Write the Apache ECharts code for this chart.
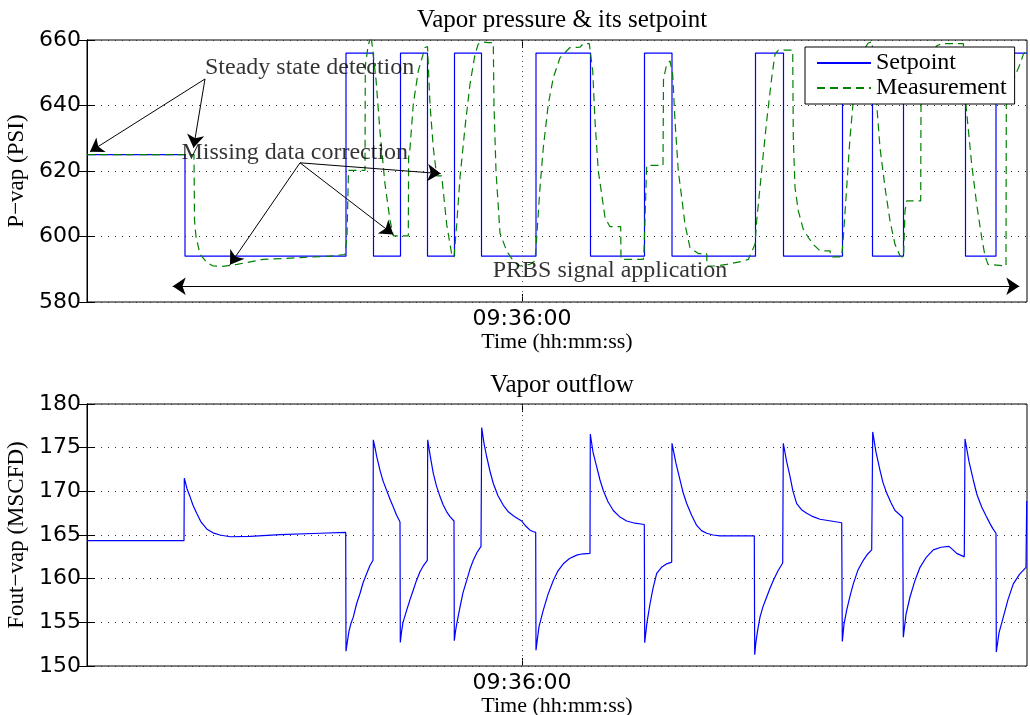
<!DOCTYPE html>
<html>
<head>
<meta charset="utf-8">
<script src="https://cdn.jsdelivr.net/npm/echarts@6/dist/echarts.min.js"></script>
<style>
html, body { margin: 0; padding: 0; background: #fff; }
#chart { width: 1030px; height: 715px; }
</style>
</head>
<body>
<div id="chart"></div>
<script>
// time axis in seconds from the left edge; t = 870 s is 09:36:00
var startClock = 9 * 3600 + 21 * 60 + 30;
var tickT = [870];

// setpoint (held until the next switch time)
var spT = [0, 196, 518, 573, 627, 681, 735, 789, 898, 1007, 1115, 1170, 1337, 1393, 1511, 1571, 1633, 1757, 1818, 1880];
var spV = [625, 594, 656, 594, 656, 594, 656, 594, 656, 594, 656, 594, 656, 594, 656, 594, 656, 594, 656, 656];

// measured vapor pressure
var measT = [0, 214, 215, 218, 226, 240, 252, 272, 300, 352, 420, 486, 516, 520, 523, 556, 556.6, 562, 568, 572,
  578, 586, 596, 606, 612.6, 642.6, 643.2, 646, 652.6, 662.6, 676, 681, 686, 692.6, 699.4, 709.4, 719.4, 729.4, 734,
  739.4, 746, 756, 766, 776, 782.6, 792, 802, 812.6, 814, 818, 826, 839.4, 852.6, 866, 886, 896, 899.4, 906, 912.6,
  922.6, 932.6, 946, 966, 986, 992.6, 1004.6, 1011.4, 1016, 1022.6, 1029.4, 1036, 1046, 1067.4, 1068, 1112.6, 1114,
  1119.4, 1152, 1153, 1159.4, 1166, 1170, 1171.4, 1176, 1182.6, 1189.4, 1196, 1206, 1222.6, 1239.4, 1240, 1259.4,
  1279.4, 1312.6, 1322.6, 1336, 1339.4, 1346, 1352.6, 1359.4, 1369.4, 1376, 1382.6, 1411.4, 1412.6, 1416, 1422.6,
  1432.6, 1442.6, 1452.6, 1466, 1486, 1488, 1509.4, 1512.6, 1519.4, 1526, 1532.6, 1540, 1550, 1562, 1570, 1574,
  1579.4, 1586, 1596, 1606, 1616, 1626, 1633, 1636, 1639.4, 1667.4, 1668, 1676, 1686, 1699.4, 1709.4, 1752.6, 1755,
  1758, 1769.4, 1779.4, 1789.4, 1796, 1802, 1838, 1838.6, 1846, 1866, 1872.6, 1880];
var measV = [625, 625, 605, 600, 594.6, 592, 591, 590.9, 591.5, 593, 593.5, 594, 594.5, 600, 620.2, 620.2, 652, 658, 661.5, 661,
  648, 632, 616, 605, 600.2, 600.2, 624, 627, 640.4, 650.6, 657.7, 658, 640.4, 627.1, 618.5, 618.5, 603.7, 594.6, 593.6,
  603.7, 618, 633.3, 646.5, 655.6, 658.8, 659.4, 659.2, 659.2, 640, 620, 601, 595.6, 592.5, 591, 591.5, 592.5, 599.7, 615, 627.1,
  640.4, 648.5, 654.6, 657.7, 657.8, 658.9, 658.9, 650.6, 635.3, 620, 612.9, 605.8, 603, 603, 593, 593, 595.6,
  621.7, 621.7, 648, 652.6, 653.6, 653.5, 649.5, 635.3, 620, 611.9, 603.7, 596.6, 594.8, 594.8, 591, 591,
  591.5, 592.5, 593, 597.6, 604.8, 615, 625.1, 635.3, 648.5, 655.6, 656.9, 656.9, 630.2, 615, 607.8,
  602.2, 599.7, 597.6, 595.6, 595.6, 593.8, 593.8, 599.7, 615, 630.2, 641.4, 650, 656, 659, 659.5, 652,
  640.4, 627.1, 615, 604.8, 597.6, 594.1, 593.5, 607.8, 610.9, 610.9, 640, 650, 655.5, 658.2, 658.9, 658.9, 655,
  640, 622, 609.8, 599.7, 594.1, 591.5, 591, 640, 645.5, 652.6, 655.6, 657];

// vapor outflow
var flowT = [0, 194, 194.6, 200, 206, 212, 219.4, 228, 239.4, 252, 266, 286, 326, 386, 466, 517.4,
  518, 521, 524, 528, 532.6, 539, 546, 552, 559.4, 566, 572,
  572.6, 576, 579.4, 586, 592, 599.4, 606, 612.6, 619, 626,
  626.6, 629, 632, 639.4, 646, 652.6, 659, 666, 673, 680.6,
  681.4, 686, 692.6, 699, 706, 712, 719.4, 726, 734,
  734.6, 737, 740, 746, 752, 759.4, 766, 772.6, 780, 788,
  789.4, 794, 799.4, 806, 812.6, 822, 832.6, 842, 852.6, 862, 869.4, 878, 886, 892, 897.4,
  898, 901, 904, 912.6, 922, 932.6, 942, 952.6, 965, 979.4, 992, 1006,
  1006.6, 1012, 1019.4, 1026, 1032.6, 1042, 1052.6, 1065, 1079.4, 1096, 1114.6,
  1115.4, 1120, 1126, 1132, 1139.4, 1149, 1159.4, 1169.4,
  1170, 1178, 1186, 1192, 1199.4, 1209, 1219.4, 1229, 1239.4, 1252, 1266, 1300, 1334.6,
  1335.4, 1338, 1341, 1346, 1352, 1359.4, 1366, 1372.6, 1382, 1391.4,
  1392.6, 1399, 1406, 1412, 1419.4, 1429, 1439.4, 1452, 1466, 1488, 1509.4,
  1510.6, 1514, 1519.4, 1526, 1532.6, 1542, 1552.6, 1561, 1569.4,
  1571.4, 1578, 1586, 1592, 1599.4, 1608, 1616, 1624, 1631.4,
  1632.6, 1638, 1646, 1656, 1666, 1678, 1692.6, 1708, 1724, 1732, 1739.4, 1747, 1754.6,
  1756, 1764, 1772.6, 1780, 1789.4, 1798, 1806, 1812, 1818,
  1818.6, 1824, 1832.6, 1842, 1852.6, 1865, 1878, 1879.4];
var flowV = [164.35, 164.35, 171.5, 170.3, 169.4, 168.4, 167.5, 166.5, 165.7, 165.25, 165.0, 164.8, 164.85, 165.05, 165.2, 165.3,
  151.7, 152.9, 154, 154.9, 155.6, 157.1, 158.3, 159.5, 160.6, 161.5, 162.1,
  175.9, 175.0, 174, 172.4, 171.2, 170.1, 169.1, 168.2, 167.3, 166.5,
  152.7, 153.9, 155, 156.4, 157.6, 158.7, 159.8, 160.8, 161.5, 162.1,
  175.9, 174.2, 172.05, 170.6, 169.4, 168.5, 167.65, 167.1, 166.6,
  152.9, 154, 155, 156.75, 158.4, 159.8, 161.1, 162.1, 163.0, 163.7,
  177.3, 175.5, 173.96, 172.3, 170.9, 169.5, 168.4, 167.7, 167.2, 166.85, 166.6, 166.0, 165.55, 165.4, 165.3,
  151.8, 153.2, 154.5, 156.4, 158.2, 159.8, 160.9, 161.7, 162.3, 162.7, 162.85, 162.9,
  176.56, 174.5, 172.8, 171.3, 170.1, 168.8, 167.8, 167.1, 166.6, 166.35, 166.2,
  152.67, 155.0, 157.1, 158.9, 160.6, 161.3, 161.7, 161.9,
  175.5, 173.2, 171.3, 169.9, 168.6, 167.3, 166.1, 165.5, 165.2, 165.0, 164.9, 164.9, 164.9,
  151.3, 152.8, 154, 155.6, 156.8, 157.9, 158.9, 159.8, 160.9, 161.8,
  175.5, 173.5, 171.7, 170.0, 168.6, 167.9, 167.5, 167.1, 166.8, 166.6, 166.4,
  152.8, 154.8, 156.4, 158.0, 159.4, 161.0, 162.1, 162.8, 163.3,
  176.8, 174.5, 172.4, 171.0, 169.8, 168.7, 167.8, 167.4, 167.0,
  153.3, 155.9, 157.9, 159.8, 161.3, 162.4, 163.3, 163.6, 163.7, 163.3, 162.9, 162.7, 162.5,
  176.0, 173.4, 171.3, 169.6, 168.2, 167.2, 166.3, 165.7, 165.2,
  151.6, 153.8, 155.6, 157.6, 159.4, 160.5, 161.3, 168.9];

// annotations on the pressure plot
var noteText = ['Steady state detection', 'Missing data correction', 'PRBS signal application'];
var noteT = [236, 189, 1046];
var noteV = [651.5, 625.5, 589.7];
var arrowFrom = [[236, 648.1], [236, 648.1], [426, 622.5], [426, 622.5], [426, 622.5]];
var arrowTo = [[6, 625.9], [213, 627.1], [286, 591.4], [612.7, 600.6], [707.3, 619.2]];
var spanFrom = [171.4, 584.8];
var spanTo = [1864.6, 584.8];

function zip(xs, ys) {
  return xs.map(function (x, i) { return [x, ys[i]]; });
}
function clock(t) {
  var s = Math.round(startClock + t);
  var h = Math.floor(s / 3600), m = Math.floor(s / 60) % 60, sec = s % 60;
  return [h, m, sec].map(function (v) { return (v < 10 ? '0' : '') + v; }).join(':');
}

var serif = 'Liberation Serif';
var sans = 'DejaVu Sans';
var dotted = { color: '#333', width: 1, type: [1, 6] };

function xAxes(grid) {
  return [{
    gridIndex: grid, type: 'value', min: 0, max: 1880, position: 'bottom',
    axisLine: { show: false },
    axisTick: { inside: true, length: 8, customValues: tickT, lineStyle: { color: '#000' } },
    axisLabel: { customValues: tickT, formatter: clock, margin: 6, color: '#000', fontFamily: sans, fontSize: 22 },
    splitLine: { show: false },
    name: 'Time (hh:mm:ss)', nameLocation: 'middle', nameGap: 25,
    nameTextStyle: { color: '#000', fontFamily: serif, fontSize: 22 }
  }, {
    gridIndex: grid, type: 'value', min: 0, max: 1880, position: 'top',
    axisLine: { show: false },
    axisTick: { inside: true, length: 8, customValues: tickT, lineStyle: { color: '#000' } },
    axisLabel: { show: false }, splitLine: { show: false }
  }];
}
function yAxes(grid, lo, hi, step, title) {
  return [{
    gridIndex: grid, type: 'value', min: lo, max: hi, interval: step,
    axisLine: { show: true, lineStyle: { color: '#000' } },
    axisTick: { inside: true, length: 8, lineStyle: { color: '#000' } },
    axisLabel: { color: '#000', fontFamily: sans, fontSize: 22, margin: 6 },
    splitLine: { show: true, lineStyle: dotted },
    name: title, nameLocation: 'middle', nameRotate: 90, nameGap: 56,
    nameTextStyle: { color: '#000', fontFamily: serif, fontSize: 23 }
  }, {
    gridIndex: grid, type: 'value', min: lo, max: hi, interval: step, position: 'right',
    axisLine: { show: true, lineStyle: { color: '#000' } },
    axisTick: { inside: true, length: 8, lineStyle: { color: '#000' } },
    axisLabel: { show: false }, splitLine: { show: false }
  }];
}
var vline = {
  silent: true, symbol: 'none', label: { show: false },
  lineStyle: { color: '#555', width: 1, type: [1, 4] },
  data: [{ xAxis: tickT[0] }]
};

var arrows = arrowFrom.map(function (a, i) {
  return [{ coord: a }, { coord: arrowTo[i] }];
});
arrows.push([{ coord: spanFrom, symbol: 'arrow' }, { coord: spanTo, symbol: 'arrow' }]);

var option = {
  animation: false,
  backgroundColor: '#fff',
  title: [
    { text: 'Vapor pressure & its setpoint', left: 557, top: 3, textAlign: 'center',
      textStyle: { fontFamily: serif, fontSize: 25, fontWeight: 'normal', color: '#000' } },
    { text: 'Vapor outflow', left: 557, top: 368, textAlign: 'center',
      textStyle: { fontFamily: serif, fontSize: 25, fontWeight: 'normal', color: '#000' } }
  ],
  grid: [
    { left: 87, top: 40, width: 940, height: 262, show: true, borderColor: '#000', borderWidth: 1,
      containLabel: false, outerBoundsMode: 'none' },
    { left: 87, top: 404, width: 940, height: 262, show: true, borderColor: '#000', borderWidth: 1,
      containLabel: false, outerBoundsMode: 'none' }
  ],
  legend: {
    data: ['Setpoint', 'Measurement'],
    orient: 'vertical', left: 805, top: 47,
    itemWidth: 54, itemHeight: 14, itemGap: 1,
    padding: [4, 8, 4, 11],
    backgroundColor: '#fff', borderColor: '#000', borderWidth: 1,
    itemStyle: { color: 'rgba(0,0,0,0)', borderWidth: 0, borderColor: 'rgba(0,0,0,0)', opacity: 0 },
    textStyle: { fontFamily: serif, fontSize: 24, color: '#000' }
  },
  xAxis: xAxes(0).concat(xAxes(1)),
  yAxis: yAxes(0, 580, 660, 20, 'P\u2212vap (PSI)').concat(yAxes(1, 150, 180, 5, 'Fout\u2212vap (MSCFD)')),
  series: [
    {
      name: 'Setpoint', type: 'line', xAxisIndex: 0, yAxisIndex: 0, step: 'end',
      symbol: 'none', lineStyle: { color: '#0000ff', width: 1.2 }, itemStyle: { color: '#0000ff' },
      data: zip(spT, spV), markLine: vline
    },
    {
      name: 'Measurement', type: 'line', xAxisIndex: 0, yAxisIndex: 0,
      symbol: 'none', lineStyle: { color: '#008000', width: 1.2, type: [8, 5] }, itemStyle: { color: '#008000' },
      data: zip(measT, measV)
    },
    {
      name: 'notes', type: 'scatter', xAxisIndex: 0, yAxisIndex: 0, symbolSize: 0, silent: true, z: 5,
      data: noteT.map(function (t, i) { return [t, noteV[i], noteText[i]]; }),
      label: {
        show: true, position: [0, 0], verticalAlign: 'middle',
        fontFamily: serif, fontSize: 24, color: '#000',
        formatter: function (p) { return p.data[2]; },
        align: 'left'
      },
      labelLayout: function (p) {
        return p.dataIndex === 2 ? { align: 'center' } : {};
      },
      markLine: {
        silent: true, symbol: ['none', 'arrow'], symbolSize: 13, label: { show: false },
        lineStyle: { color: '#000', width: 1, type: 'solid' },
        data: arrows
      }
    },
    {
      name: 'Outflow', type: 'line', xAxisIndex: 2, yAxisIndex: 2,
      symbol: 'none', lineStyle: { color: '#0000ff', width: 1.2 },
      data: zip(flowT, flowV), markLine: vline
    }
  ]
};

var chart = echarts.init(document.getElementById('chart'), null, { renderer: 'canvas' });
chart.setOption(option);
</script>
</body>
</html>
